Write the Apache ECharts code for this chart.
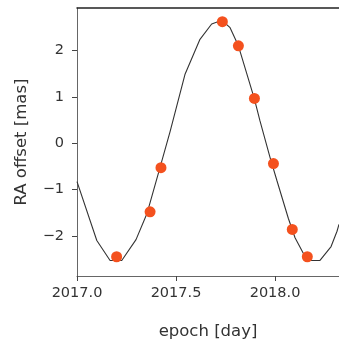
<!DOCTYPE html>
<html>
<head>
<meta charset="utf-8">
<script src="https://cdn.jsdelivr.net/npm/echarts@6/dist/echarts.min.js"></script>
<style>html,body{margin:0;padding:0;background:#fff}#c{width:339px;height:345px}</style>
</head>
<body>
<div id="c"></div>
<script>
// model curve
var curveX = [2017.000, 2017.100, 2017.167, 2017.226, 2017.298, 2017.354, 2017.409, 2017.470, 2017.545, 2017.621, 2017.680, 2017.732, 2017.773, 2017.815, 2017.895, 2017.924, 2017.975, 2018.009, 2018.067, 2018.101, 2018.146, 2018.168, 2018.227, 2018.283, 2018.313, 2018.323];
var curveY = [-0.83, -2.10, -2.53, -2.53, -2.08, -1.51, -0.68, 0.25, 1.48, 2.24, 2.57, 2.65, 2.49, 2.10, 0.965, 0.48, -0.31, -0.80, -1.62, -2.04, -2.40, -2.53, -2.53, -2.23, -1.90, -1.75];
// observations
var obsX = [2017.200, 2017.369, 2017.424, 2017.734, 2017.815, 2017.896, 2017.992, 2018.087, 2018.163];
var obsY = [-2.45, -1.48, -0.53, 2.62, 2.10, 0.965, -0.44, -1.86, -2.45];
var xTicks = [2017.0, 2017.5, 2018.0];
var yTicks = [-2, -1, 0, 1, 2];

function zip(a, b) { return a.map(function (v, i) { return [v, b[i]]; }); }
var font = 'DejaVu Sans';
var chart = echarts.init(document.getElementById('c'), null, {renderer: 'canvas'});
chart.setOption({
  animation: false,
  grid: {left: 77, top: 8, right: 0, bottom: 58, containLabel: false},
  xAxis: [{
    type: 'value', min: 2017.0, max: 2018.323, position: 'bottom',
    name: 'epoch [day]', nameLocation: 'middle', nameGap: 47,
    nameTextStyle: {fontFamily: font, fontSize: 16.5, color: '#333'},
    axisLine: {show: true, onZero: false, lineStyle: {color: '#666', width: 1}},
    axisTick: {show: true, length: 5, customValues: xTicks, lineStyle: {color: '#444'}},
    axisLabel: {customValues: xTicks, fontFamily: font, fontSize: 14.5, color: '#333', margin: 10,
      formatter: function (v) { return v.toFixed(1); }},
    splitLine: {show: false}
  }, {
    type: 'value', min: 2017.0, max: 2018.323, position: 'top',
    axisLine: {show: true, onZero: false, lineStyle: {color: '#222', width: 1.5}},
    axisTick: {show: false}, axisLabel: {show: false}, splitLine: {show: false}
  }],
  yAxis: {
    type: 'value', min: -2.865, max: 2.915,
    name: 'RA offset [mas]', nameLocation: 'middle', nameGap: 47, nameRotate: 90,
    nameTextStyle: {fontFamily: font, fontSize: 16.5, color: '#333'},
    axisLine: {show: true, onZero: false, lineStyle: {color: '#666', width: 1}},
    axisTick: {show: true, length: 5, customValues: yTicks, lineStyle: {color: '#444'}},
    axisLabel: {customValues: yTicks, fontFamily: font, fontSize: 14.5, color: '#333', margin: 13,
      formatter: function (v) { return String(v).replace('-', '\u2212'); }},
    splitLine: {show: false}
  },
  series: [{
    type: 'line', data: zip(curveX, curveY), showSymbol: false, symbol: 'none',
    lineStyle: {color: '#333', width: 1.1}, z: 2, clip: true
  }, {
    type: 'scatter', data: zip(obsX, obsY), symbolSize: 11,
    itemStyle: {color: '#f4511e', opacity: 1}, z: 3
  }]
});
</script>
</body>
</html>
